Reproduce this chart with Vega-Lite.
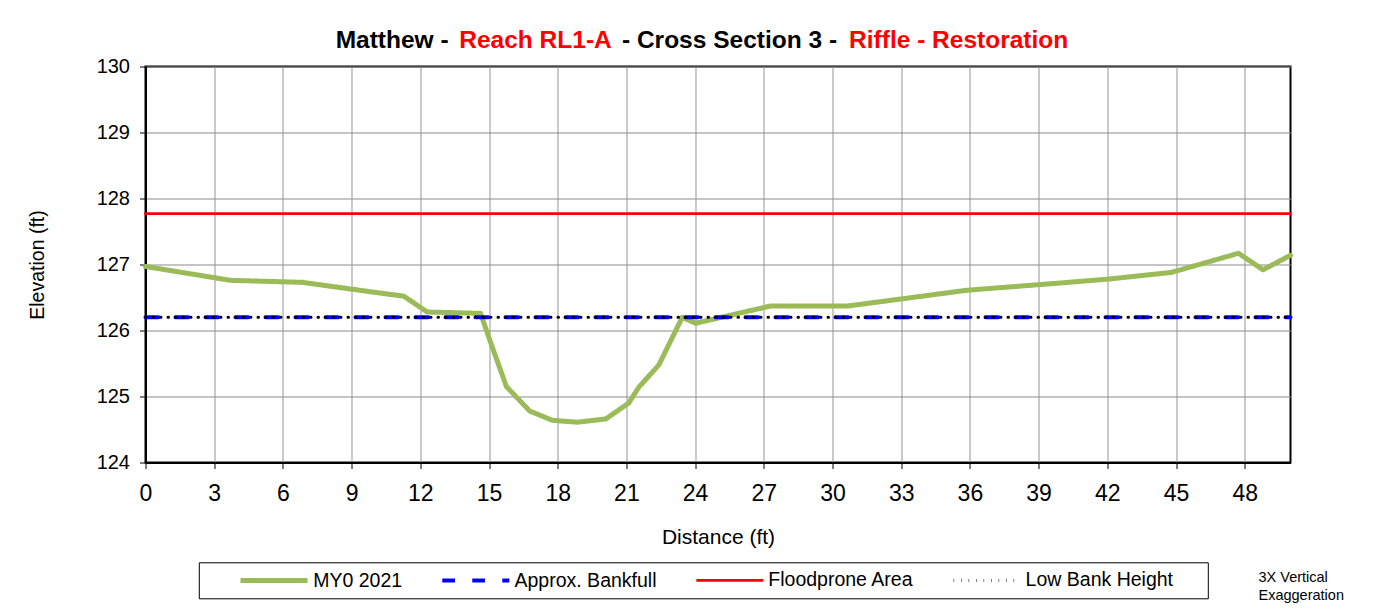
{
  "$schema": "https://vega.github.io/schema/vega-lite/v6.json",
  "padding": {"left": 25.5, "top": 25.5, "right": 0, "bottom": 0},
  "background": "white",
  "config": {
    "font": "Liberation Sans",
    "view": {"stroke": null},
    "text": {"font": "Liberation Sans"}
  },
  "spacing": 0,
  "vconcat": [
    {
      "spacing": 0,
      "hconcat": [
        {"width": 184.9, "height": 30, "data": {"values": [{"t": ""}]}, "mark": {"type": "text", "fontSize": 24.5, "baseline": "middle"}, "encoding": {"text": {"field": "t"}}},
        {"width": 123.3, "height": 30, "data": {"values": [{"t": "Matthew -"}]}, "mark": {"type": "text", "fontSize": 24.5, "fontWeight": "bold", "color": "#000000", "baseline": "middle"}, "encoding": {"text": {"field": "t"}}},
        {"width": 162, "height": 30, "data": {"values": [{"t": "Reach RL1-A"}]}, "mark": {"type": "text", "fontSize": 24.5, "fontWeight": "bold", "color": "#FF0000", "baseline": "middle"}, "encoding": {"text": {"field": "t"}}},
        {"width": 226, "height": 30, "data": {"values": [{"t": "- Cross Section 3 -"}]}, "mark": {"type": "text", "fontSize": 24.5, "fontWeight": "bold", "color": "#000000", "baseline": "middle"}, "encoding": {"text": {"field": "t"}}},
        {"width": 232.3, "height": 30, "data": {"values": [{"t": "Riffle - Restoration"}]}, "mark": {"type": "text", "fontSize": 24.5, "fontWeight": "bold", "color": "#FF0000", "baseline": "middle"}, "encoding": {"text": {"field": "t"}}}
      ]
    },
    {
      "width": 1145,
      "height": 396,
      "view": {"stroke": "#000000", "strokeWidth": 2},
      "title": {
        "text": ["3X Vertical", "Exaggeration"],
        "orient": "bottom",
        "anchor": "end",
        "frame": "group",
        "align": "left",
        "baseline": "top",
        "dx": -32,
        "dy": 19.5,
        "fontSize": 14.5,
        "fontWeight": "normal",
        "lineHeight": 18,
        "color": "#000000"
      },
      "data": {
        "values": [
          {"series": "MY0 2021", "dist": 0, "elev": 126.97},
          {"series": "MY0 2021", "dist": 3.7, "elev": 126.76},
          {"series": "MY0 2021", "dist": 6.84, "elev": 126.73},
          {"series": "MY0 2021", "dist": 9.97, "elev": 126.58},
          {"series": "MY0 2021", "dist": 11.28, "elev": 126.52},
          {"series": "MY0 2021", "dist": 12.3, "elev": 126.28},
          {"series": "MY0 2021", "dist": 14.63, "elev": 126.26},
          {"series": "MY0 2021", "dist": 15.07, "elev": 125.82},
          {"series": "MY0 2021", "dist": 15.76, "elev": 125.15},
          {"series": "MY0 2021", "dist": 16.78, "elev": 124.78},
          {"series": "MY0 2021", "dist": 17.76, "elev": 124.64},
          {"series": "MY0 2021", "dist": 18.85, "elev": 124.61},
          {"series": "MY0 2021", "dist": 20.1, "elev": 124.66},
          {"series": "MY0 2021", "dist": 21.1, "elev": 124.9},
          {"series": "MY0 2021", "dist": 21.54, "elev": 125.14},
          {"series": "MY0 2021", "dist": 22.42, "elev": 125.48},
          {"series": "MY0 2021", "dist": 23.44, "elev": 126.2},
          {"series": "MY0 2021", "dist": 24.02, "elev": 126.11},
          {"series": "MY0 2021", "dist": 27.29, "elev": 126.37},
          {"series": "MY0 2021", "dist": 30.64, "elev": 126.37},
          {"series": "MY0 2021", "dist": 35.88, "elev": 126.61},
          {"series": "MY0 2021", "dist": 39.96, "elev": 126.72},
          {"series": "MY0 2021", "dist": 42.08, "elev": 126.78},
          {"series": "MY0 2021", "dist": 44.8, "elev": 126.88},
          {"series": "MY0 2021", "dist": 47.73, "elev": 127.17},
          {"series": "MY0 2021", "dist": 48.8, "elev": 126.92},
          {"series": "MY0 2021", "dist": 50.0, "elev": 127.14},
          {"series": "Approx. Bankfull", "dist": 0, "elev": 126.2},
          {"series": "Approx. Bankfull", "dist": 50, "elev": 126.2},
          {"series": "Floodprone Area", "dist": 0, "elev": 127.77},
          {"series": "Floodprone Area", "dist": 50, "elev": 127.77},
          {"series": "Low Bank Height", "dist": 0, "elev": 126.2},
          {"series": "Low Bank Height", "dist": 50, "elev": 126.2}
        ]
      },
      "mark": {"type": "line", "strokeCap": "round", "strokeJoin": "round"},
      "encoding": {
        "x": {
          "field": "dist",
          "type": "quantitative",
          "scale": {"domain": [0, 50], "nice": false, "zero": false},
          "axis": {
            "values": [0, 3, 6, 9, 12, 15, 18, 21, 24, 27, 30, 33, 36, 39, 42, 45, 48],
            "title": "Distance (ft)",
            "titleFontSize": 21,
            "titleFontWeight": "normal",
            "titleColor": "#000000",
            "titlePadding": 21,
            "labelFontSize": 23,
            "labelColor": "#000000",
            "labelPadding": 13.6,
            "labelFlush": false,
            "tickSize": 6,
            "tickColor": "#000000",
            "tickWidth": 1,
            "domainColor": "#000000",
            "domainWidth": 2,
            "gridColor": "#a6a6a6",
            "gridWidth": 1.2
          }
        },
        "y": {
          "field": "elev",
          "type": "quantitative",
          "scale": {"domain": [124, 130], "nice": false, "zero": false},
          "axis": {
            "values": [124, 125, 126, 127, 128, 129, 130],
            "title": "Elevation (ft)",
            "titleFontSize": 19.5,
            "titleFontWeight": "normal",
            "titleColor": "#000000",
            "titlePadding": 49,
            "labelFontSize": 20,
            "labelColor": "#000000",
            "labelPadding": 10,
            "tickSize": 6,
            "tickColor": "#000000",
            "tickWidth": 1,
            "domainColor": "#000000",
            "domainWidth": 2,
            "gridColor": "#8c8c8c",
            "gridWidth": 1.2
          }
        },
        "color": {
          "field": "series",
          "type": "nominal",
          "scale": {
            "domain": ["MY0 2021", "Approx. Bankfull", "Floodprone Area", "Low Bank Height"],
            "range": ["#9BBB59", "#0000FF", "#FF0000", "#000000"]
          },
          "legend": {
            "orient": "none",
            "legendX": 53.3,
            "legendY": 536.8,
            "direction": "horizontal",
            "title": null,
            "symbolType": "M-4.19,0H4.19",
            "symbolSize": 256,
            "labelFontSize": 19.5,
            "labelColor": "#000000",
            "labelOffset": 28.7,
            "labelLimit": 400,
            "labelExpr": "datum.label == 'Low Bank Height' ? datum.label + '\u00a0\u00a0\u00a0\u00a0\u00a0\u200b' : datum.label",
            "columnPadding": 6.3,
            "padding": 7.5,
            "symbolOffset": 57.2,
            "strokeColor": "#000000",
            "fillColor": "#FFFFFF"
          }
        },
        "strokeDash": {
          "field": "series",
          "type": "nominal",
          "scale": {
            "domain": ["MY0 2021", "Approx. Bankfull", "Floodprone Area", "Low Bank Height"],
            "range": [[1, 0], [12.7, 17.3], [1, 0], [0.5, 7]]
          }
        },
        "strokeWidth": {
          "field": "series",
          "type": "nominal",
          "scale": {
            "type": "ordinal",
            "domain": ["MY0 2021", "Approx. Bankfull", "Floodprone Area", "Low Bank Height"],
            "range": [5, 4, 2.8, 3]
          }
        }
      }
    }
  ]
}
